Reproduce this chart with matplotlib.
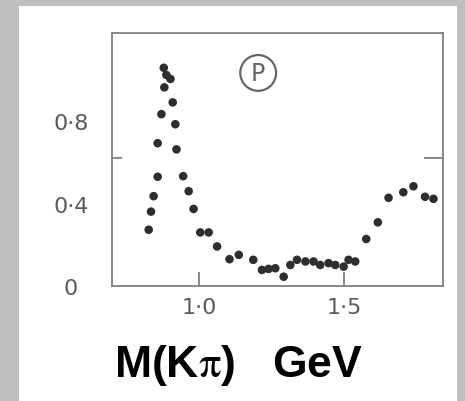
import numpy as np
import matplotlib
matplotlib.use("Agg")
import matplotlib.pyplot as plt
from matplotlib.patches import Rectangle

plt.rcParams['mathtext.fontset'] = 'stix'

# masse K-pi (GeV) et valeurs
masse = [0.825, 0.833, 0.842, 0.856, 0.856, 0.869, 0.879, 0.877, 0.886, 0.900,
         0.908, 0.917, 0.921, 0.944, 0.963, 0.980, 1.003, 1.032, 1.061, 1.104,
         1.136, 1.186, 1.216, 1.239, 1.262, 1.291, 1.314, 1.337, 1.366, 1.394,
         1.417, 1.446, 1.469, 1.498, 1.515, 1.538, 1.576, 1.616, 1.653, 1.704,
         1.739, 1.779, 1.808]
valeur = [0.273, 0.361, 0.436, 0.530, 0.693, 0.834, 0.964, 1.059, 1.024, 1.005,
          0.891, 0.785, 0.663, 0.533, 0.460, 0.374, 0.260, 0.260, 0.192, 0.130,
          0.151, 0.127, 0.078, 0.083, 0.086, 0.045, 0.102, 0.127, 0.119, 0.119,
          0.102, 0.111, 0.102, 0.094, 0.127, 0.119, 0.228, 0.309, 0.428, 0.455,
          0.484, 0.433, 0.423]

yticks = [0, 0.4, 0.8]
ylabels = ['0', '0·4', '0·8']
xticks = [1.0, 1.5]
xlabels = ['1·0', '1·5']

fig = plt.figure(figsize=(4.65, 4.02), dpi=100, facecolor='#bfbfbf')
# panneau blanc
fig.add_artist(Rectangle((19 / 465, 0), 438 / 465, 395 / 402,
                         transform=fig.transFigure, facecolor='white',
                         edgecolor='none', zorder=-10))

ax = fig.add_axes([0.2419, 0.2861, 0.7108, 0.6294])
ax.set_facecolor('none')
ax.scatter(masse, valeur, s=38, color='#2e2e2e', edgecolors='none')

ax.set_xlim(0.70, 1.841)
ax.set_ylim(0, 1.228)

gris = '#808080'
for s in ax.spines.values():
    s.set_color(gris)
    s.set_linewidth(1.3)

ax.set_xticks(xticks, xlabels)
ax.set_yticks(yticks, ylabels)
ax.set_yticks([0.621], minor=True)
ax.tick_params(axis='x', direction='in', length=10, width=1.3, color=gris,
               labelsize=16, labelcolor='#5a5a5a', pad=8)
ax.tick_params(axis='y', which='major', length=0, labelsize=16,
               labelcolor='#5a5a5a', pad=30)
ax.tick_params(axis='y', which='minor', direction='in', length=7, width=1.3,
               color=gris)
for lab in ax.get_yticklabels():
    lab.set_horizontalalignment('center')

droite = ax.secondary_yaxis('right')
droite.set_yticks([0.621], [''])
droite.tick_params(direction='in', length=14, width=1.3, color=gris)
droite.spines['right'].set_visible(False)

ax.text(1.203, 1.034, 'P', fontsize=17, color='#666666', ha='center',
        va='center', bbox=dict(boxstyle='circle,pad=0.25', fc='none',
                               ec='#666666', lw=1.6))

fig.text(0.513, 0.062, r'M(K$\mathrm{\pi}$)   GeV', fontsize=32,
         fontweight='bold', family='Liberation Sans', ha='center',
         va='baseline')

fig.savefig('out.png', dpi=100, facecolor=fig.get_facecolor())
